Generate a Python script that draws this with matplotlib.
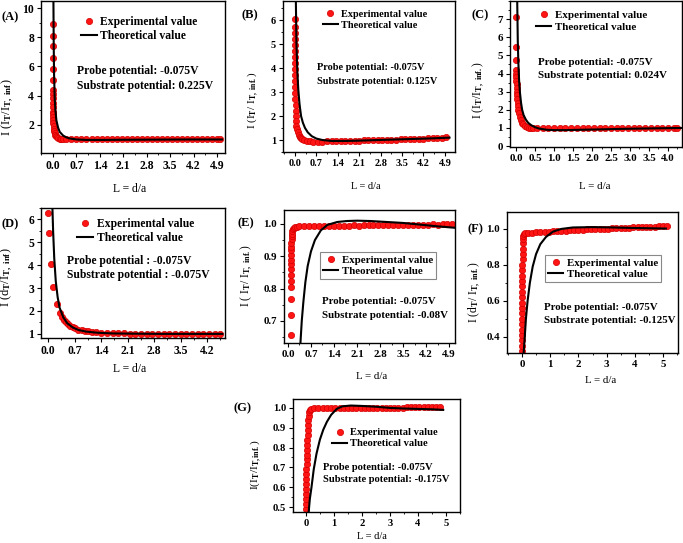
import matplotlib
matplotlib.use("Agg")
import matplotlib.pyplot as plt
from matplotlib.ticker import AutoMinorLocator, FormatStrFormatter

plt.rcParams["font.family"] = ["Liberation Serif", "DejaVu Serif"]
plt.rcParams["font.weight"] = "bold"
plt.rcParams["mathtext.fontset"] = "custom"
plt.rcParams["mathtext.rm"] = "Liberation Serif:bold"
plt.rcParams["mathtext.it"] = "Liberation Serif:bold"
plt.rcParams["mathtext.bf"] = "Liberation Serif:bold"
plt.rcParams["mathtext.default"] = "rm"

# ---- (A) substrate 0.225V
a_exp_x = [0.0, 0.0, 0.0, 0.0, 0.0, 0.0, 0.0, 0.0, 0.0, 0.0, 0.0, 0.0, 0.0, 0.0, 0.01, 0.01, 0.02, 0.03,
           0.04, 0.05, 0.07, 0.09, 0.12, 0.15, 0.2, 0.25, 0.3,
           0.4, 0.55, 0.7, 0.85, 1.0, 1.15, 1.3, 1.45, 1.6, 1.75, 1.9, 2.05, 2.2, 2.35, 2.5, 2.65, 2.8, 2.95,
           3.1, 3.25, 3.4, 3.55, 3.7, 3.85, 4.0, 4.15, 4.3, 4.45, 4.6, 4.75, 4.9, 5.0]
a_exp_y = [8.9, 8.1, 7.4, 6.6, 5.8, 5.1, 4.4, 4.1, 3.8, 3.5, 3.2, 2.9, 2.7, 2.5, 2.3, 2.1, 1.9, 1.7,
           1.55, 1.42, 1.3, 1.2, 1.12, 1.07, 1.03, 1.01, 1.0,
           1.0, 1.0, 0.99, 1.0, 1.0, 1.0, 0.99, 1.0, 1.0, 1.0, 1.0, 0.99, 1.0, 1.0, 1.0, 1.0, 1.0, 1.0,
           0.99, 1.0, 1.0, 1.0, 1.0, 1.0, 1.0, 1.0, 0.99, 1.0, 1.0, 1.0, 1.0, 1.0]
a_th_x = [0.005, 0.01, 0.02, 0.03, 0.05, 0.07, 0.1, 0.15, 0.2, 0.3, 0.4, 0.5, 0.7, 1.0, 1.5, 2.0, 3.0, 4.0, 5.05]
a_th_y = [14.0, 11.0, 7.5, 5.5, 3.8, 3.0, 2.3, 1.8, 1.5, 1.25, 1.12, 1.05, 0.98, 0.95, 0.95, 0.96, 0.97, 0.98, 0.98]

# ---- (B) substrate 0.125V
b_exp_x = [0.0, 0.0, 0.0, 0.0, 0.0, 0.0, 0.0, 0.0, 0.0, 0.0, 0.0, 0.01, 0.01, 0.01, 0.02, 0.02, 0.03, 0.04,
           0.05, 0.07, 0.09, 0.12, 0.15, 0.19, 0.24, 0.3, 0.38, 0.48, 0.6,
           0.75, 0.9, 1.05, 1.2, 1.35, 1.5, 1.65, 1.8, 1.95, 2.1, 2.25, 2.4, 2.55, 2.7, 2.85, 3.0, 3.15,
           3.3, 3.45, 3.6, 3.75, 3.9, 4.05, 4.2, 4.35, 4.5, 4.65, 4.8, 4.95]
b_exp_y = [6.05, 5.7, 5.45, 5.2, 4.95, 4.7, 4.45, 4.2, 3.95, 3.7, 3.45, 3.2, 2.95, 2.7, 2.45, 2.2, 2.0, 1.8,
           1.6, 1.45, 1.32, 1.22, 1.14, 1.08, 1.03, 0.99, 0.96, 0.94, 0.93,
           0.93, 0.93, 0.94, 0.94, 0.95, 0.95, 0.96, 0.96, 0.97, 0.97, 0.98, 0.98, 0.99, 0.99, 1.0, 1.0, 1.01,
           1.02, 1.03, 1.03, 1.04, 1.05, 1.06, 1.06, 1.07, 1.08, 1.09, 1.1, 1.11]
b_th_x = [0.02, 0.03, 0.05, 0.08, 0.11, 0.15, 0.2, 0.26, 0.33, 0.42, 0.55, 0.7, 0.9, 1.2, 1.6, 2.0, 2.5,
          3.0, 3.5, 4.0, 4.5, 5.05]
b_th_y = [8.0, 6.8, 5.0, 3.8, 3.1, 2.5, 2.0, 1.72, 1.5, 1.32, 1.16, 1.06, 1.0, 0.96, 0.96, 0.97, 0.99,
          1.01, 1.03, 1.05, 1.07, 1.1]

# ---- (C) substrate 0.024V
c_exp_x = [0.0, 0.0, 0.0, 0.01, 0.01, 0.01, 0.01, 0.02, 0.02, 0.02, 0.03, 0.03, 0.04, 0.05, 0.06, 0.08,
           0.1, 0.12, 0.15, 0.19, 0.23, 0.28, 0.33, 0.39, 0.45,
           0.55, 0.7, 0.85, 1.0, 1.15, 1.3, 1.45, 1.6, 1.75, 1.9, 2.05, 2.2, 2.35, 2.5, 2.65, 2.8, 2.95,
           3.1, 3.25, 3.4, 3.55, 3.7, 3.85, 4.0, 4.15, 4.25]
c_exp_y = [7.1, 5.45, 4.75, 4.2, 4.0, 3.8, 3.6, 3.4, 3.2, 3.0, 2.8, 2.6, 2.4, 2.2, 2.0, 1.8,
           1.6, 1.45, 1.3, 1.2, 1.12, 1.06, 1.02, 0.99, 0.98,
           0.98, 0.98, 0.98, 0.98, 0.98, 0.98, 0.98, 0.99, 0.99, 0.99, 0.99, 0.99, 0.99, 0.99, 0.99, 1.0, 1.0,
           1.0, 1.0, 1.0, 1.0, 1.0, 1.0, 1.0, 1.0, 1.0]
c_th_x = [0.02, 0.03, 0.045, 0.06, 0.08, 0.1, 0.13, 0.16, 0.2, 0.26, 0.32, 0.4, 0.5, 0.6, 0.8, 1.0, 1.3,
          1.7, 2.2, 2.8, 3.4, 4.0, 4.37]
c_th_y = [10.0, 8.0, 5.8, 4.6, 3.6, 3.0, 2.4, 2.0, 1.7, 1.45, 1.28, 1.15, 1.04, 0.97, 0.9, 0.88, 0.88,
          0.9, 0.92, 0.95, 0.97, 0.99, 1.0]

# ---- (D) substrate -0.075V
d_exp_x = [0.0, 0.01, 0.07, 0.14, 0.23, 0.3, 0.36, 0.41, 0.46, 0.52, 0.58, 0.65, 0.72, 0.8, 0.88, 0.97,
           1.06, 1.16, 1.27, 1.4, 1.55,
           1.7, 1.85, 2.0, 2.15, 2.3, 2.45, 2.6, 2.75, 2.9, 3.05, 3.2, 3.35, 3.5, 3.65, 3.8, 3.95, 4.1,
           4.25, 4.4, 4.55]
d_exp_y = [6.3, 5.4, 4.05, 3.05, 2.3, 1.92, 1.72, 1.6, 1.5, 1.42, 1.35, 1.29, 1.24, 1.19, 1.16, 1.13,
           1.11, 1.09, 1.07, 1.05, 1.04,
           1.03, 1.02, 1.02, 1.01, 1.01, 1.01, 1.0, 1.0, 1.0, 1.0, 1.0, 1.0, 1.0, 1.0, 1.0, 1.0, 1.0,
           1.0, 1.0, 1.0]
d_th_x = [0.11, 0.13, 0.16, 0.2, 0.25, 0.3, 0.4, 0.5, 0.65, 0.8, 1.0, 1.3, 1.7, 2.2, 3.0, 3.8, 4.6]
d_th_y = [6.6, 5.5, 4.3, 3.3, 2.6, 2.15, 1.72, 1.47, 1.28, 1.17, 1.1, 1.05, 1.02, 1.01, 1.0, 1.0, 1.0]

# ---- (E) substrate -0.08V
e_exp_x = [0.1, 0.1, 0.1, 0.1, 0.1, 0.1, 0.1, 0.1, 0.1, 0.1, 0.1, 0.1, 0.1, 0.11, 0.11, 0.12, 0.13,
           0.15, 0.18, 0.22, 0.28,
           0.35, 0.5, 0.65, 0.8, 0.95, 1.1, 1.25, 1.4, 1.55, 1.7, 1.85, 2.0, 2.15, 2.3, 2.45, 2.6, 2.75,
           2.9, 3.05, 3.2, 3.35, 3.5, 3.65, 3.8, 3.95, 4.1, 4.25, 4.4, 4.55, 4.7, 4.85, 5.0]
e_exp_y = [0.658, 0.717, 0.767, 0.805, 0.825, 0.842, 0.86, 0.875, 0.89, 0.905, 0.918, 0.93, 0.942,
           0.952, 0.962, 0.97, 0.977, 0.983, 0.987, 0.99, 0.992,
           0.993, 0.993, 0.994, 0.993, 0.994, 0.994, 0.995, 0.994, 0.995, 0.995, 0.995, 0.996, 0.995,
           0.996, 0.996, 0.996, 0.997, 0.996, 0.997, 0.997, 0.997, 0.998, 0.997, 0.998, 0.998, 0.998,
           0.998, 0.999, 0.998, 0.999, 0.999, 1.0]
e_th_x = [0.38, 0.42, 0.47, 0.53, 0.6, 0.7, 0.82, 1.0, 1.2, 1.5, 1.8, 2.1, 2.5, 3.0, 3.5, 4.0, 4.5, 5.08]
e_th_y = [0.632, 0.7, 0.76, 0.82, 0.87, 0.915, 0.95, 0.98, 0.997, 1.006, 1.009, 1.01, 1.009, 1.006,
          1.003, 0.998, 0.993, 0.988]

# ---- (F) substrate -0.125V
f_exp_x = [0.0, 0.0, 0.0, 0.0, 0.0, 0.0, 0.0, 0.0, 0.0, 0.0, 0.0, 0.0, 0.01, 0.01, 0.01, 0.01, 0.01,
           0.02, 0.02, 0.02, 0.03, 0.04, 0.05, 0.08, 0.12,
           0.2, 0.35, 0.5, 0.65, 0.8, 0.95, 1.1, 1.25, 1.4, 1.55, 1.7, 1.85, 2.0, 2.15, 2.3, 2.45, 2.6,
           2.75, 2.9, 3.05, 3.2, 3.35, 3.5, 3.65, 3.8, 3.95, 4.1, 4.25, 4.4, 4.55, 4.7, 4.85, 5.0, 5.15]
f_exp_y = [0.32, 0.35, 0.38, 0.41, 0.44, 0.47, 0.5, 0.53, 0.56, 0.59, 0.62, 0.65, 0.68, 0.71, 0.74,
           0.77, 0.8, 0.83, 0.86, 0.89, 0.92, 0.945, 0.962, 0.972, 0.977,
           0.978, 0.979, 0.981, 0.982, 0.984, 0.985, 0.987, 0.988, 0.989, 0.99, 0.992, 0.993, 0.994,
           0.995, 0.997, 0.998, 0.999, 1.0, 1.001, 1.002, 1.003, 1.004, 1.005, 1.006, 1.007, 1.008,
           1.009, 1.01, 1.011, 1.012, 1.013, 1.014, 1.015, 1.017]
f_th_x = [0.06, 0.1, 0.14, 0.2, 0.28, 0.38, 0.5, 0.65, 0.85, 1.1, 1.4, 1.8, 2.5, 3.2, 4.0, 5.1]
f_th_y = [0.31, 0.4, 0.5, 0.6, 0.7, 0.79, 0.86, 0.915, 0.955, 0.985, 1.0, 1.008, 1.01, 1.008, 1.005, 1.002]

# ---- (G) substrate -0.175V
g_exp_x = [0.0, 0.0, 0.0, 0.0, 0.01, 0.01, 0.01, 0.02, 0.02, 0.02, 0.03, 0.03, 0.04, 0.04, 0.05, 0.05,
           0.06, 0.07, 0.08, 0.09, 0.1, 0.12, 0.15, 0.2,
           0.3, 0.45, 0.6, 0.75, 0.9, 1.05, 1.2, 1.35, 1.5, 1.65, 1.8, 1.95, 2.1, 2.25, 2.4, 2.55, 2.7,
           2.85, 3.0, 3.15, 3.3, 3.45, 3.6, 3.75, 3.9, 4.05, 4.2, 4.35, 4.5, 4.65, 4.8]
g_exp_y = [0.465, 0.49, 0.515, 0.54, 0.565, 0.59, 0.615, 0.64, 0.665, 0.69, 0.715, 0.74, 0.765, 0.79,
           0.815, 0.84, 0.865, 0.89, 0.915, 0.94, 0.96, 0.978, 0.99, 0.997,
           0.999, 0.999, 1.0, 1.0, 1.0, 1.0, 1.0, 1.0, 1.0, 1.0, 1.0, 1.001, 1.001, 1.001, 1.001, 1.001,
           1.002, 1.002, 1.002, 1.002, 1.002, 1.002, 1.003, 1.003, 1.003, 1.003, 1.003, 1.004, 1.004,
           1.004, 1.005]
g_th_x = [0.1, 0.14, 0.2, 0.28, 0.38, 0.5, 0.62, 0.75, 0.9, 1.1, 1.3, 1.6, 2.0, 2.5, 3.0, 3.5, 4.0, 4.5, 4.9]
g_th_y = [0.475, 0.54, 0.6, 0.69, 0.77, 0.84, 0.89, 0.93, 0.965, 0.995, 1.008, 1.012, 1.01, 1.006, 1.0,
          0.997, 0.995, 0.993, 0.99]

xt_07 = [0.0, 0.7, 1.4, 2.1, 2.8, 3.5, 4.2, 4.9]
xt_05 = [0.0, 0.5, 1.0, 1.5, 2.0, 2.5, 3.0, 3.5, 4.0]
xt_d = [0.0, 0.7, 1.4, 2.1, 2.8, 3.5, 4.2]
xt_1 = [0, 1, 2, 3, 4, 5]

W, H = 683, 543
fig = plt.figure(figsize=(W / 100, H / 100), dpi=100)


def rect(l, t, r, b):
    return [l / W, 1 - b / H, (r - l) / W, (b - t) / H]


panels = [
    dict(tag="(A)", tagpos=(2, 17), box=(41, 1, 225, 153), ex=a_exp_x, ey=a_exp_y, tx=a_th_x, ty=a_th_y,
         xlim=(-0.36, 5.14), ylim=(0.05, 10.5), xt=xt_07, yt=[2, 4, 6, 8, 10], fmt="%.1f", yfmt="%g",
         ylab=r"I (I$_{T}$/I$_{T,\ inf}$)", ylabpos=(-0.135, 0.30), xlabpos=(0.48, -0.2),
         leg=(0.19, 0.93), frame=False, txt=(0.196, 0.54, 0.44), fs=8.4,
         s1="Probe potential: -0.075V", s2="Substrate potential: 0.225V"),
    dict(tag="(B)", tagpos=(242, 15), box=(283, 1, 455, 152), ex=b_exp_x, ey=b_exp_y, tx=b_th_x, ty=b_th_y,
         xlim=(-0.39, 5.23), ylim=(0.5, 6.8), xt=xt_07, yt=[1, 2, 3, 4, 5, 6], fmt="%.1f", yfmt="%g",
         ylab=r"I (I$_{T}$/ I$_{T,\ inf.}$)", ylabpos=(-0.128, 0.34), xlabpos=(0.48, -0.2),
         leg=(0.21, 0.97), frame=False, txt=(0.198, 0.56, 0.47), fs=7.4,
         s1="Probe potential: -0.075V", s2="Substrate potential: 0.125V"),
    dict(tag="(C)", tagpos=(472, 15), box=(510, 1, 682, 147), ex=c_exp_x, ey=c_exp_y, tx=c_th_x, ty=c_th_y,
         xlim=(-0.16, 4.37), ylim=(-0.05, 8.0), xt=xt_05, yt=[0, 1, 2, 3, 4, 5, 6, 7], fmt="%.1f", yfmt="%g",
         ylab=r"I (I$_{T}$/I$_{T,\ inf.}$)", ylabpos=(-0.134, 0.39), xlabpos=(0.49, -0.24),
         leg=(0.125, 0.965), frame=False, txt=(0.163, 0.578, 0.49), fs=7.9,
         s1="Probe potential: -0.075V", s2="Substrate potential: 0.024V"),
    dict(tag="(D)", tagpos=(2, 224), box=(41, 208, 225, 338), ex=d_exp_x, ey=d_exp_y, tx=d_th_x, ty=d_th_y,
         xlim=(-0.19, 4.67), ylim=(0.82, 6.5), xt=xt_d, yt=[1, 2, 3, 4, 5, 6], fmt="%.1f", yfmt="%g",
         ylab=r"I (d$_{T}$/I$_{T,\ inf}$)", ylabpos=(-0.14, 0.47), xlabpos=(0.48, -0.19),
         leg=(0.17, 0.96), frame=False, txt=(0.14, 0.595, 0.485), fs=8.4,
         s1="Probe potential : -0.075V", s2="Substrate potential : -0.075V"),
    dict(tag="(E)", tagpos=(238, 223), box=(284, 210, 455, 343), ex=e_exp_x, ey=e_exp_y, tx=e_th_x, ty=e_th_y,
         xlim=(-0.12, 5.08), ylim=(0.632, 1.043), xt=xt_07, yt=[0.7, 0.8, 0.9, 1.0], fmt="%.1f", yfmt="%.1f",
         ylab=r"I ( I$_{T}$/ I$_{T,\ inf.}$)", ylabpos=(-0.17, 0.51), xlabpos=(0.51, -0.22),
         leg=(0.21, 0.684), frame=True, txt=(0.222, 0.31, 0.21), fs=7.8,
         s1="Probe potential: -0.075V", s2="Substrate potential: -0.08V"),
    dict(tag="(F)", tagpos=(467, 229), box=(507, 212, 678, 353), ex=f_exp_x, ey=f_exp_y, tx=f_th_x, ty=f_th_y,
         xlim=(-0.53, 5.53), ylim=(0.31, 1.094), xt=xt_1, yt=[0.4, 0.6, 0.8, 1.0], fmt="%.0f", yfmt="%.1f",
         ylab=r"I (d$_{T}$/ I$_{T,\ inf.}$)", ylabpos=(-0.14, 0.43), xlabpos=(0.55, -0.16),
         leg=(0.222, 0.695), frame=True, txt=(0.216, 0.326, 0.227), fs=7.8,
         s1="Probe potential: -0.075V", s2="Substrate potential: -0.125V"),
    dict(tag="(G)", tagpos=(233, 408), box=(293, 399, 460, 512), ex=g_exp_x, ey=g_exp_y, tx=g_th_x, ty=g_th_y,
         xlim=(-0.46, 5.5), ylim=(0.475, 1.045), xt=xt_1, yt=[0.5, 0.6, 0.7, 0.8, 0.9, 1.0], fmt="%.0f",
         yfmt="%.1f", ylab=r"I(I$_{T}$/I$_{T,inf.}$)", ylabpos=(-0.174, 0.42), xlabpos=(0.47, -0.18),
         leg=(0.21, 0.78), frame=False, txt=(0.18, 0.39, 0.29), fs=7.6,
         s1="Probe potential: -0.075V", s2="Substrate potential: -0.175V"),
]

for p in panels:
    fs = p["fs"]
    ax = fig.add_axes(rect(*p["box"]))
    ax.plot(p["ex"], p["ey"], "o", ls="none", color="#ff1414", mec="#d40000", mew=0.5, ms=4.5,
            label="Experimental value")
    ax.plot(p["tx"], p["ty"], "-", color="k", lw=1.5, label="Theoretical value")
    ax.set_xlim(*p["xlim"])
    ax.set_ylim(*p["ylim"])
    ax.set_xticks(p["xt"])
    ax.set_yticks(p["yt"])
    ax.xaxis.set_major_formatter(FormatStrFormatter(p["fmt"]))
    ax.yaxis.set_major_formatter(FormatStrFormatter(p["yfmt"]))
    ax.xaxis.set_minor_locator(AutoMinorLocator(2))
    ax.yaxis.set_minor_locator(AutoMinorLocator(2))
    ax.tick_params(which="major", direction="out", length=3, width=0.8, labelsize=fs, pad=2)
    ax.tick_params(which="minor", direction="out", length=1.6, width=0.6)
    for s in ax.spines.values():
        s.set_linewidth(1.0)
    ax.set_xlabel("L = d/a", fontsize=fs)
    ax.xaxis.set_label_coords(*p["xlabpos"])
    ax.set_ylabel(p["ylab"], fontsize=fs + 0.6)
    ax.yaxis.set_label_coords(*p["ylabpos"])
    if p["frame"]:
        leg = ax.legend(loc="upper left", bbox_to_anchor=p["leg"], borderaxespad=0, frameon=True,
                        fancybox=False, edgecolor="#888888", framealpha=1, fontsize=fs, numpoints=1,
                        handlelength=1.4, handletextpad=0.3, labelspacing=0.15, borderpad=0.3)
        leg.get_frame().set_linewidth(0.8)
    else:
        ax.legend(loc="upper left", bbox_to_anchor=p["leg"], borderaxespad=0, frameon=False,
                  fontsize=fs, numpoints=1, handlelength=1.4, handletextpad=0.3, labelspacing=0.15)
    x0, y1, y2 = p["txt"]
    ax.text(x0, y1, p["s1"], transform=ax.transAxes, fontsize=fs, va="center")
    ax.text(x0, y2, p["s2"], transform=ax.transAxes, fontsize=fs, va="center")
    fig.text(p["tagpos"][0] / W, 1 - p["tagpos"][1] / H, p["tag"], fontsize=9, va="center")

fig.savefig("out.png", dpi=100)
